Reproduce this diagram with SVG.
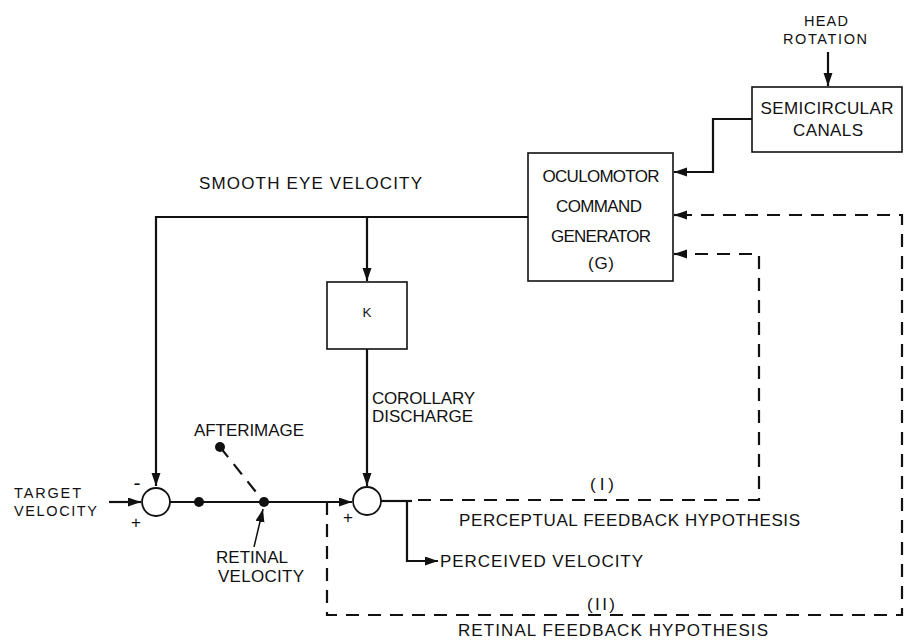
<svg xmlns="http://www.w3.org/2000/svg" width="906" height="643" viewBox="0 0 906 643">
<style>
.t{font-family:"Liberation Sans",Arial,sans-serif;font-size:17px;fill:#111}
.s{font-size:14.5px}
.box{fill:#fff;stroke:#111;stroke-width:1.6}
.ln{fill:none;stroke:#111;stroke-width:2.2}
.ds{fill:none;stroke:#111;stroke-width:2.2;stroke-dasharray:13 9}
.dot{fill:#111}
</style>
<defs>
<marker id="ah" markerUnits="userSpaceOnUse" markerWidth="14" markerHeight="10" refX="13" refY="4.5" orient="auto">
<path d="M0,0 L13,4.5 L0,9 Z" fill="#111"/>
</marker>
</defs>
<rect width="906" height="643" fill="#fff"/>

<g id="connectors">
<path class="ln" d="M528,217 H156 V486" marker-end="url(#ah)"/>
<path class="ln" d="M367,217 V281" marker-end="url(#ah)"/>
<path class="ln" d="M367,349 V486" marker-end="url(#ah)"/>
<path class="ln" d="M109,502 H141" marker-end="url(#ah)"/>
<path class="ln" d="M170,502 H352" marker-end="url(#ah)"/>
<path class="ds" d="M220,447 L264,502"/>
<path class="ln" d="M254,547 L263,509" marker-end="url(#ah)" style="stroke-width:1.5"/>
<path class="ln" d="M381,501 H412"/>
<path class="ds" d="M418,500 H759 V254 H686"/>
<path class="ln" d="M686,254 H674" marker-end="url(#ah)"/>
<path class="ln" d="M407,501 V561 H438" marker-end="url(#ah)"/>
<path class="ds" d="M327,502 V615 H902 V215 H686"/>
<path class="ln" d="M686,215 H674" marker-end="url(#ah)"/>
<path class="ln" d="M752,119 H713 V172 H674" marker-end="url(#ah)"/>
<path class="ln" d="M828,52 V86" marker-end="url(#ah)"/>
<circle class="dot" cx="199" cy="502" r="5"/>
<circle class="dot" cx="264" cy="502" r="5"/>
<circle class="dot" cx="220" cy="447" r="5"/>
</g>

<g id="smooth-label">
<text class="t" x="199" y="189" textLength="223" lengthAdjust="spacing">SMOOTH EYE VELOCITY</text>
</g>

<g id="head-rotation">
<text class="t s" x="826" y="26" text-anchor="middle" textLength="44" lengthAdjust="spacing">HEAD</text>
<text class="t s" x="825" y="44" text-anchor="middle" textLength="84" lengthAdjust="spacing">ROTATION</text>
</g>

<g id="semicircular-canals">
<rect class="box" x="752" y="87" width="150" height="65"/>
<text class="t" x="827" y="114" text-anchor="middle" textLength="133" lengthAdjust="spacing">SEMICIRCULAR</text>
<text class="t" x="828" y="136" text-anchor="middle" textLength="70" lengthAdjust="spacing">CANALS</text>
</g>

<g id="oculomotor">
<rect class="box" x="528" y="153" width="145" height="128"/>
<text class="t" x="601" y="182" text-anchor="middle" textLength="117" lengthAdjust="spacing">OCULOMOTOR</text>
<text class="t" x="599" y="212" text-anchor="middle" textLength="86" lengthAdjust="spacing">COMMAND</text>
<text class="t" x="601" y="242" text-anchor="middle" textLength="100" lengthAdjust="spacing">GENERATOR</text>
<text class="t" x="601" y="269" text-anchor="middle" textLength="26" lengthAdjust="spacing">(G)</text>
</g>

<g id="k-box">
<rect class="box" x="327" y="282" width="80" height="67"/>
<text class="t" x="367" y="317" text-anchor="middle" style="font-size:13.5px">K</text>
</g>

<g id="corollary-label">
<text class="t" x="372" y="404" textLength="103" lengthAdjust="spacing">COROLLARY</text>
<text class="t" x="372" y="422" textLength="101" lengthAdjust="spacing">DISCHARGE</text>
</g>

<g id="sum1">
<circle cx="156" cy="502" r="14" fill="#fff" stroke="#111" stroke-width="1.8"/>
<text class="t" x="137" y="490" text-anchor="middle" style="font-size:21px">-</text>
<text class="t" x="136" y="528" text-anchor="middle">+</text>
</g>

<g id="sum2">
<circle cx="367" cy="501" r="14" fill="#fff" stroke="#111" stroke-width="1.8"/>
<text class="t" x="348" y="523" text-anchor="middle">+</text>
</g>

<g id="target-velocity">
<text class="t s" x="14" y="498" textLength="67" lengthAdjust="spacing">TARGET</text>
<text class="t s" x="14" y="516" textLength="83" lengthAdjust="spacing">VELOCITY</text>
</g>

<g id="afterimage">
<text class="t" x="194" y="436" textLength="110" lengthAdjust="spacing">AFTERIMAGE</text>
</g>

<g id="retinal-velocity">
<text class="t" x="216" y="563" textLength="72" lengthAdjust="spacing">RETINAL</text>
<text class="t" x="218" y="582" textLength="86" lengthAdjust="spacing">VELOCITY</text>
</g>

<g id="perceived-velocity">
<text class="t" x="440" y="567" textLength="203" lengthAdjust="spacing">PERCEIVED VELOCITY</text>
</g>

<g id="hypothesis-I">
<text class="t" x="602" y="490" text-anchor="middle" textLength="24" lengthAdjust="spacing">(I)</text>
<text class="t" x="459" y="526" textLength="341" lengthAdjust="spacing">PERCEPTUAL FEEDBACK HYPOTHESIS</text>
</g>

<g id="hypothesis-II">
<text class="t" x="601" y="610" text-anchor="middle" textLength="28" lengthAdjust="spacing">(II)</text>
<text class="t" x="458" y="636" textLength="310" lengthAdjust="spacing">RETINAL FEEDBACK HYPOTHESIS</text>
</g>
</svg>
